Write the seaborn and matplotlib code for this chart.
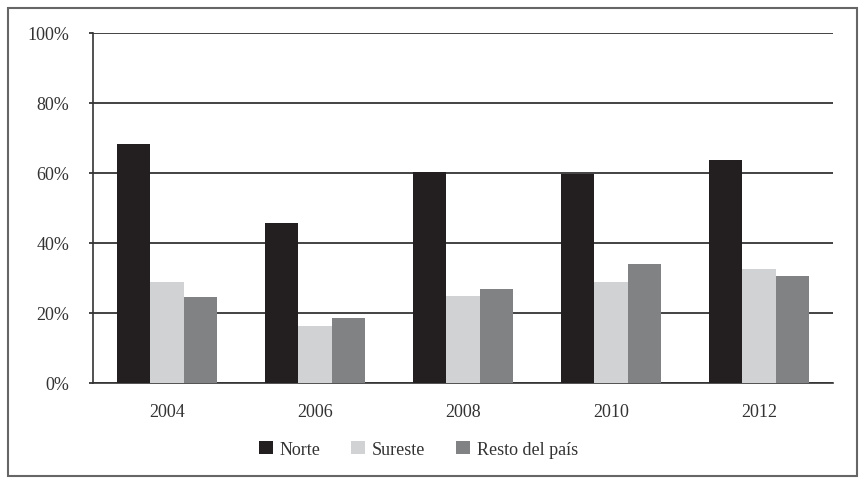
import pandas as pd
import seaborn as sns
import matplotlib.pyplot as plt
from matplotlib.patches import Rectangle
from matplotlib.ticker import PercentFormatter

years = ["2004", "2006", "2008", "2010", "2012"]
regions = ["Norte", "Sureste", "Resto del país"]
norte = [68.3, 45.8, 60.2, 59.6, 63.6]
sureste = [28.8, 16.2, 24.9, 28.8, 32.6]
resto = [24.7, 18.7, 26.9, 34.1, 30.5]

colors = ["#231f20", "#d1d2d3", "#808284"]

df = pd.DataFrame({
    "Año": years * 3,
    "Región": [r for r in regions for _ in years],
    "Valor": norte + sureste + resto,
})

sns.set_style("white")
plt.rcParams["font.family"] = ["Liberation Serif", "DejaVu Serif"]

fig = plt.figure(figsize=(8.64, 4.85), dpi=100)
ax = fig.add_axes([93 / 864, 101 / 485, 740 / 864, 350 / 485])

sns.barplot(data=df, x="Año", y="Valor", hue="Región", order=years,
            hue_order=regions, palette=colors, width=0.68, saturation=1,
            linewidth=0, ax=ax, zorder=3)

ax.set_ylim(0, 100)
ax.set_xlim(-0.5, 4.5)
ax.set_yticks(range(0, 101, 20))
ax.yaxis.set_major_formatter(PercentFormatter(decimals=0))
ax.grid(axis="y", color="#222222", linewidth=1.2, zorder=0)
ax.set_axisbelow(True)
for side in ["top", "right"]:
    ax.spines[side].set_visible(False)
for side in ["left", "bottom"]:
    ax.spines[side].set_color("#333333")
    ax.spines[side].set_linewidth(1.2)
ax.tick_params(axis="y", left=True, length=3, width=1.2, color="#222222",
               labelsize=13, pad=14, labelcolor="#333333")
ax.tick_params(axis="x", bottom=False, labelsize=13, pad=11, labelcolor="#333333")
ax.set_xlabel("")
ax.set_ylabel("")

ax.legend(loc="center", bbox_to_anchor=(0.44, -0.189), ncol=3,
          frameon=False, fontsize=13, handlelength=0.75, handleheight=0.75,
          handletextpad=0.4, columnspacing=1.7, labelcolor="#333333")

fig.patches.append(Rectangle((8 / 864, 8 / 485), 849 / 864, 468 / 485,
                             transform=fig.transFigure, fill=False,
                             edgecolor="#666666", linewidth=1.5))

fig.savefig("out.png", dpi=100)
